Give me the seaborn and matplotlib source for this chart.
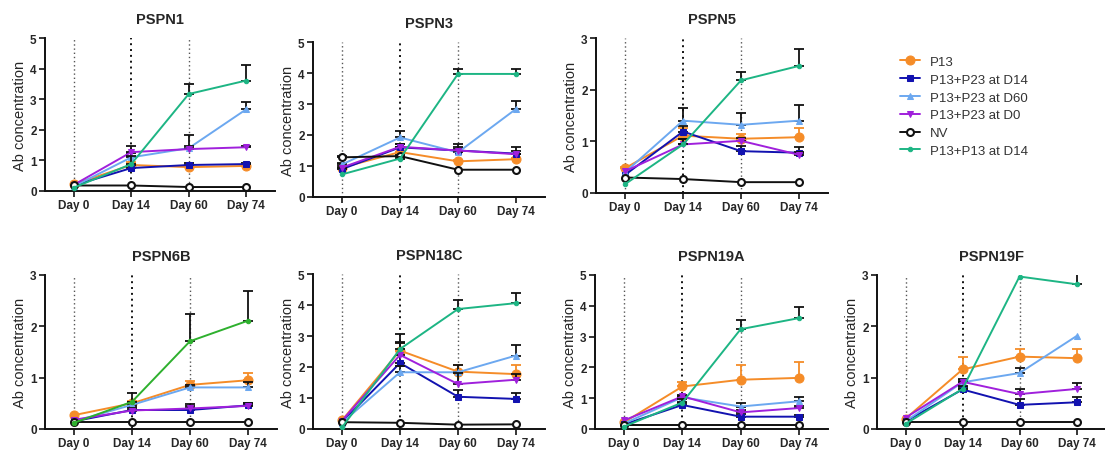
"""Ab concentration over time per serotype: grid of small line charts with a shared legend."""
import matplotlib
matplotlib.use("Agg")
import matplotlib.pyplot as plt
import seaborn as sns

sns.set_style("ticks")
plt.rcParams["font.family"] = ["Liberation Sans", "DejaVu Sans"]

DAYS = ["Day 0", "Day 14", "Day 60", "Day 74"]
GROUPS = ["P13", "P13+P23 at D14", "P13+P23 at D60", "P13+P23 at D0", "NV", "P13+P13 at D14"]

# mean values, one row per group (same order as GROUPS); *_ERR = upper error bar
PSPN1_MEAN = [[0.22, 0.85, 0.78, 0.82], [0.18, 0.75, 0.85, 0.88], [0.15, 1.10, 1.40, 2.67],
              [0.20, 1.27, 1.37, 1.43], [0.18, 0.18, 0.13, 0.13], [0.11, 0.88, 3.17, 3.61]]
PSPN1_ERR = [[0, 0.10, 0.05, 0.05], [0, 0.10, 0.05, 0.05], [0, 0.15, 0.43, 0.23],
             [0, 0.20, 0.10, 0.05], [0, 0, 0, 0], [0, 0.25, 0.33, 0.52]]

PSPN3_MEAN = [[0.95, 1.45, 1.15, 1.22], [0.90, 1.60, 1.50, 1.40], [1.05, 1.92, 1.44, 2.84],
              [0.95, 1.62, 1.50, 1.38], [1.28, 1.32, 0.88, 0.88], [0.73, 1.24, 3.97, 3.97]]
PSPN3_ERR = [[0, 0.15, 0.05, 0.05], [0.05, 0.10, 0.20, 0.20], [0.05, 0.22, 0.10, 0.27],
             [0.05, 0.10, 0.10, 0.10], [0.05, 0.05, 0, 0], [0, 0.05, 0.17, 0.17]]

PSPN5_MEAN = [[0.48, 1.11, 1.05, 1.08], [0.35, 1.19, 0.81, 0.78], [0.40, 1.40, 1.32, 1.40],
              [0.42, 0.94, 1.01, 0.74], [0.30, 0.27, 0.21, 0.21], [0.17, 0.94, 2.18, 2.46]]
PSPN5_ERR = [[0.03, 0.15, 0.10, 0.17], [0, 0.10, 0.10, 0.12], [0, 0.24, 0.23, 0.31],
             [0, 0.10, 0.05, 0.05], [0, 0, 0, 0], [0, 0.10, 0.17, 0.32]]

PSPN6B_MEAN = [[0.27, 0.50, 0.86, 0.95], [0.15, 0.37, 0.37, 0.46], [0.15, 0.47, 0.81, 0.81],
               [0.18, 0.36, 0.40, 0.45], [0.13, 0.13, 0.13, 0.13], [0.12, 0.53, 1.71, 2.11]]
PSPN6B_ERR = [[0, 0.05, 0.08, 0.14], [0, 0.05, 0.12, 0.05], [0, 0.05, 0.05, 0.10],
              [0, 0.05, 0.05, 0.05], [0, 0, 0, 0], [0, 0.18, 0.54, 0.57]]

PSPN18C_MEAN = [[0.28, 2.53, 1.85, 1.77], [0.22, 2.13, 1.04, 0.97], [0.20, 1.83, 1.83, 2.37],
                [0.27, 2.39, 1.45, 1.59], [0.22, 0.20, 0.14, 0.15], [0.05, 2.58, 3.87, 4.06]]
PSPN18C_ERR = [[0, 0.25, 0.20, 0.31], [0, 0.67, 0.23, 0.19], [0, 0.20, 0.25, 0.35],
               [0, 0.40, 0.35, 0.20], [0, 0, 0, 0], [0, 0.47, 0.30, 0.33]]

PSPN19A_MEAN = [[0.22, 1.38, 1.60, 1.66], [0.15, 0.78, 0.40, 0.40], [0.18, 1.03, 0.73, 0.90],
                [0.28, 1.06, 0.54, 0.68], [0.12, 0.12, 0.12, 0.12], [0.08, 0.86, 3.24, 3.60]]
PSPN19A_ERR = [[0, 0.13, 0.48, 0.50], [0, 0.10, 0.08, 0.05], [0, 0.05, 0.10, 0.15],
               [0, 0.05, 0.08, 0.06], [0, 0, 0, 0], [0, 0.10, 0.29, 0.37]]

PSPN19F_MEAN = [[0.20, 1.16, 1.41, 1.38], [0.15, 0.77, 0.47, 0.52], [0.15, 0.91, 1.09, 1.81],
                [0.22, 0.92, 0.68, 0.78], [0.13, 0.13, 0.13, 0.13], [0.10, 0.78, 2.97, 2.82]]
PSPN19F_ERR = [[0, 0.25, 0.15, 0.18], [0, 0.05, 0.11, 0.11], [0, 0.05, 0.10, 0],
               [0, 0.05, 0.10, 0.12], [0, 0, 0, 0], [0, 0.05, 0, 0.30]]

PANELS = [
    ("PSPN1", PSPN1_MEAN, PSPN1_ERR, 5, (45, 39, 230, 153)),
    ("PSPN3", PSPN3_MEAN, PSPN3_ERR, 5, (313, 43, 232, 155)),
    ("PSPN5", PSPN5_MEAN, PSPN5_ERR, 3, (596, 39, 232, 155)),
    ("PSPN6B", PSPN6B_MEAN, PSPN6B_ERR, 3, (45, 276, 232, 154)),
    ("PSPN18C", PSPN18C_MEAN, PSPN18C_ERR, 5, (313, 275, 232, 155)),
    ("PSPN19A", PSPN19A_MEAN, PSPN19A_ERR, 5, (595, 276, 233, 154)),
    ("PSPN19F", PSPN19F_MEAN, PSPN19F_ERR, 3, (877, 276, 228, 154)),
]

COLORS = ["#F58C28", "#1212B0", "#6CA8F0", "#A020DC", "#111111", "#1DB584"]
STYLE = [
    dict(marker="o", markersize=6.5),
    dict(marker="s", markersize=4.5),
    dict(marker="^", markersize=5),
    dict(marker="v", markersize=5),
    dict(marker="o", markersize=5, markerfacecolor="white", markeredgewidth=1.5),
    dict(marker="o", markersize=3.2),
]

W, H = 1105, 452
fig = plt.figure(figsize=(W / 100, H / 100), dpi=100)

for title, means, errs, ytop, (px, py, pw, ph) in PANELS:
    ax = fig.add_axes([px / W, 1 - (py + ph) / H, pw / W, ph / H])
    for x, c, lw in [(0, "#555555", 1.0), (1, "#111111", 1.4), (2, "#555555", 1.0)]:
        ax.axvline(x, color=c, lw=lw, ls=(0, (1, 2)), zorder=0)
    for g, name in enumerate(GROUPS):
        col = COLORS[g]
        if title == "PSPN6B" and g == 5:
            col = "#2EB02E"
        ecol = col if g == 0 else "#111111"
        pts = [i for i in range(len(DAYS)) if errs[g][i] > 0]
        if pts:
            ax.errorbar(pts, [means[g][i] for i in pts],
                        yerr=[[0] * len(pts), [errs[g][i] for i in pts]],
                        fmt="none", ecolor=ecol, elinewidth=1.3, capsize=3.5, capthick=1.3,
                        zorder=2 + g)
        sns.lineplot(x=range(len(DAYS)), y=means[g], ax=ax, color=col, lw=1.4,
                     markeredgecolor=col, label=name, zorder=3 + g, **STYLE[g])
    if ax.get_legend():
        ax.get_legend().remove()
    ax.set_xlim(-0.5, 3.5)
    ax.set_ylim(0, ytop)
    ax.set_yticks(range(ytop + 1))
    ax.set_xticks(range(len(DAYS)))
    ax.set_xticklabels(DAYS)
    ax.set_title(title, fontsize=10.5, fontweight="bold", pad=11)
    ax.set_ylabel("Ab concentration", fontsize=10.5, labelpad=2)
    ax.set_xlabel("")
    for s in ["top", "right"]:
        ax.spines[s].set_visible(False)
    for s in ["left", "bottom"]:
        ax.spines[s].set_linewidth(1.4)
        ax.spines[s].set_color("#111111")
    ax.tick_params(direction="out", length=4, width=1.3, labelsize=8.5, pad=2)
    for lab in ax.get_xticklabels() + ax.get_yticklabels():
        lab.set_fontweight("bold")
    if title == "PSPN1":
        handles, labels = ax.get_legend_handles_labels()

fig.legend(handles, labels, loc="upper left", bbox_to_anchor=(888 / W, 1 - 45 / H),
           frameon=False, fontsize=9.5, handlelength=1.5, labelspacing=0.42,
           handletextpad=0.8, labelcolor="#333333")

fig.savefig("out.png", dpi=100)
